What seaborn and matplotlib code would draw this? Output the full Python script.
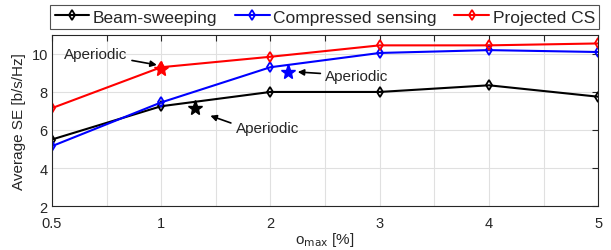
import matplotlib
matplotlib.use("Agg")
import matplotlib.pyplot as plt
import seaborn as sns
import pandas as pd
import numpy as np

# ---- data ----
omax_labels = ["0.5", "1", "2", "3", "4", "5"]
beam_sweeping = [5.5, 7.25, 8.0, 8.0, 8.35, 7.75]
compressed_sensing = [5.15, 7.45, 9.3, 10.05, 10.2, 10.1]
projected_cs = [7.15, 9.3, 9.85, 10.45, 10.45, 10.55]
series_names = ["Beam-sweeping", "Compressed sensing", "Projected CS"]
series_colors = ["black", "blue", "red"]

# aperiodic points (x on the category-index scale)
aperiodic_x = [1.31, 2.16, 1.0]
aperiodic_y = [7.15, 9.05, 9.2]

sns.set_theme(style="white")
plt.rcParams["font.family"] = ["Liberation Sans", "DejaVu Sans"]

fig = plt.figure(figsize=(6.11, 2.51), dpi=100)
ax = fig.add_axes([0.085, 0.175, 0.894, 0.682])

pos = np.arange(len(omax_labels))
rows = []
for name, vals in zip(series_names, [beam_sweeping, compressed_sensing, projected_cs]):
    for p, v in zip(pos, vals):
        rows.append({"pos": p, "se": v, "method": name})
df = pd.DataFrame(rows)

for name, col in zip(series_names, series_colors):
    sub = df[df["method"] == name]
    sns.lineplot(data=sub, x="pos", y="se", ax=ax, color=col, lw=1.5,
                 marker="d", markersize=5, markerfacecolor="none",
                 markeredgecolor=col, markeredgewidth=1.3, label=name)

star_df = pd.DataFrame({"x": aperiodic_x, "y": aperiodic_y, "c": series_colors})
for _, r in star_df.iterrows():
    ax.plot(r["x"], r["y"], marker="*", color=r["c"], markersize=11, linestyle="none", zorder=5)

# annotations
arrow = dict(arrowstyle="-|>", color="black", lw=1.2, mutation_scale=9, shrinkA=1, shrinkB=0)
ax.annotate("Aperiodic", xy=(aperiodic_x[2] - 0.04, aperiodic_y[2] + 0.22),
            xytext=(0.11, 10.0), fontsize=11, ha="left", va="center", arrowprops=arrow)
ax.annotate("Aperiodic", xy=(aperiodic_x[1] + 0.09, aperiodic_y[1]),
            xytext=(2.5, 8.85), fontsize=11, ha="left", va="center", arrowprops=arrow)
ax.annotate("Aperiodic", xy=(aperiodic_x[0] + 0.14, aperiodic_y[0] - 0.4),
            xytext=(1.68, 6.1), fontsize=11, ha="left", va="center",
            arrowprops=dict(arrow, relpos=(0.0, 0.75)))

ax.set_xlim(0, 5)
ax.set_ylim(2, 11)
ax.set_xticks(pos)
ax.set_xticklabels(omax_labels)
ax.set_xticks(np.arange(0.5, 5, 1.0), minor=True)
ax.set_yticks([2, 4, 6, 8, 10])
ax.grid(True, which="major", color="#e0e0e0", lw=0.8)
ax.grid(True, which="minor", axis="x", color="#e0e0e0", lw=0.8)
ax.set_axisbelow(True)
ax.tick_params(which="both", direction="in", top=True, right=True,
               length=4, width=0.8, colors="#262626", labelsize=10.5, pad=3)
ax.tick_params(axis="x", which="both", pad=7)
for s in ax.spines.values():
    s.set_visible(True)
    s.set_color("#262626")
    s.set_linewidth(0.8)

ax.set_xlabel(r"o$_{\rm max}$ [%]", fontsize=11, color="#262626", labelpad=0)
ax.set_ylabel("Average SE [b/s/Hz]", fontsize=11, color="#262626", labelpad=4)

leg = ax.legend(loc="lower left", bbox_to_anchor=(-0.003, 1.035, 1.005, 0.14),
                mode="expand", ncol=3, fontsize=12.5, frameon=True, fancybox=False,
                edgecolor="#262626", handlelength=2.0, handletextpad=0.2,
                borderpad=0.25, columnspacing=1.0, borderaxespad=0)
leg.get_frame().set_linewidth(0.8)

fig.savefig("out.png", dpi=100)
